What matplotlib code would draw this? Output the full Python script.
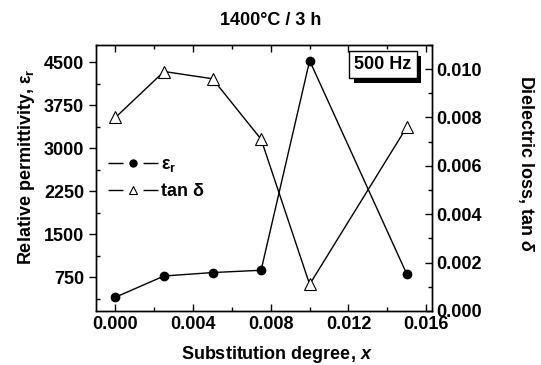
import matplotlib
matplotlib.use("Agg")
import matplotlib.pyplot as plt
import matplotlib.patheffects as pe
from matplotlib.lines import Line2D
from matplotlib.ticker import MultipleLocator

plt.rcParams['font.family'] = ['Liberation Sans', 'DejaVu Sans']
plt.rcParams['font.weight'] = 'bold'
plt.rcParams['mathtext.fontset'] = 'custom'
plt.rcParams['mathtext.rm'] = 'Liberation Sans:bold'
plt.rcParams['mathtext.it'] = 'Liberation Sans:bold:italic'
plt.rcParams['mathtext.bf'] = 'Liberation Sans:bold'

# data
x = [0.0, 0.0025, 0.005, 0.0075, 0.010, 0.015]
eps_r = [400, 770, 830, 870, 4525, 805]
tan_d = [0.0080, 0.0099, 0.0096, 0.0071, 0.0011, 0.0076]

FS = 13

fig = plt.figure(figsize=(5.41, 3.65), dpi=100)
ax = fig.add_axes([0.1775, 0.148, 0.621, 0.729])
ax2 = ax.twinx()

ax.plot(x, eps_r, color='k', lw=1, marker='o', ms=6, mfc='k')
ax2.plot(x, tan_d, color='k', lw=1, marker='^', ms=8, mfc='white', mew=0.8)

ax.set_xlim(-0.001, 0.0163)
ax.set_ylim(160, 4800)
ax2.set_ylim(0, 0.011)

ax.xaxis.set_major_locator(MultipleLocator(0.004))
ax.xaxis.set_minor_locator(MultipleLocator(0.002))
ax.yaxis.set_major_locator(MultipleLocator(750))
ax.yaxis.set_minor_locator(MultipleLocator(375))
ax2.yaxis.set_major_locator(MultipleLocator(0.002))
ax2.yaxis.set_minor_locator(MultipleLocator(0.001))
ax.xaxis.set_major_formatter(plt.FormatStrFormatter('%.3f'))
ax2.yaxis.set_major_formatter(plt.FormatStrFormatter('%.3f'))

# ticks: left majors outside, everything else inside
ax.tick_params(axis='x', which='both', direction='in', top=True, labelsize=FS, width=1)
ax.tick_params(axis='y', which='major', direction='out', labelsize=FS, width=1)
ax.tick_params(axis='y', which='minor', direction='in', width=1)
ax.tick_params(which='major', length=5)
ax.tick_params(which='minor', length=3)
ax2.tick_params(which='both', direction='in', labelsize=FS, width=1)
ax2.tick_params(which='major', length=5, pad=3)
ax2.tick_params(which='minor', length=3)
for a in (ax, ax2):
    for s in a.spines.values():
        s.set_linewidth(1)

ax.set_xlabel(r'Substitution degree, $\mathit{x}$', fontsize=FS, fontweight='bold', va='center')
ax.xaxis.set_label_coords(0.539, -0.165)
ax.set_ylabel(r'Relative permittivity, $\mathregular{\varepsilon_r}$', fontsize=FS, fontweight='bold', va='center')
ax.yaxis.set_label_coords(-0.208, 0.541)
ax2.set_ylabel(r'Dielectric loss, tan $\mathit{\delta}$', fontsize=FS, fontweight='bold',
               rotation=270, va='center')
ax2.yaxis.set_label_coords(1.28, 0.555)

fig.text(0.5, 0.945, '1400°C / 3 h', ha='center', va='center', fontsize=FS, fontweight='bold')

t = ax.text(0.854, 0.925, '500 Hz', transform=ax.transAxes, ha='center', va='center',
            fontsize=FS, fontweight='bold',
            bbox=dict(boxstyle='square,pad=0.28', fc='white', ec='k', lw=1))
t.get_bbox_patch().set_path_effects([
    pe.SimplePatchShadow(offset=(3.5, -3.5), shadow_rgbFace='k', alpha=1),
    pe.Normal()])

# legend handles: line broken around the marker
h1 = Line2D([], [], color='k', lw=1, ls=(0, (10.8, 14.4)), marker='o', ms=5, mfc='k')
h2 = Line2D([], [], color='k', lw=1, ls=(0, (10.8, 14.4)), marker='^', ms=6, mfc='white', mew=0.8)
ax.legend([h1, h2], [r'$\mathregular{\varepsilon_r}$', 'tan δ'], loc='center left',
          bbox_to_anchor=(0.036, 0.5), frameon=False, fontsize=FS,
          borderpad=0, borderaxespad=0, handlelength=2.77, handletextpad=0.15,
          labelspacing=0.5, numpoints=1)

fig.savefig('out.png', dpi=100)
